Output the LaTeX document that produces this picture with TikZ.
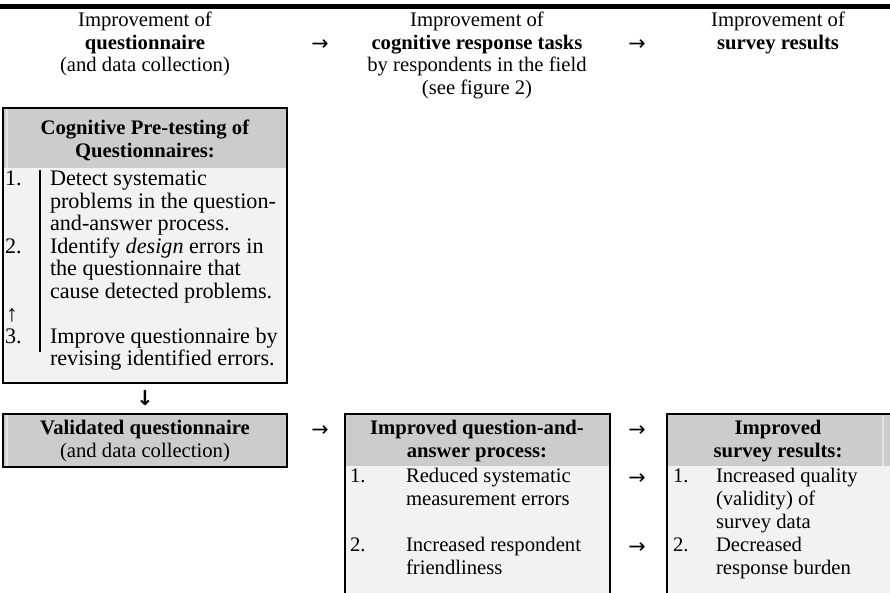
\documentclass[tikz,border=0pt]{standalone}
\usepackage{fontspec}
\setmainfont{Liberation Serif}
\newfontfamily\arrowfont{DejaVu Sans}
\definecolor{hgray}{HTML}{CCCCCC}
\definecolor{bgray}{HTML}{F2F2F2}
\definecolor{faintline}{HTML}{E2E2E2}
\begin{document}
\begin{tikzpicture}[x=0.6pt,y=-0.6pt,
  every node/.style={inner sep=0pt,outer sep=0pt,font=\fontsize{12.4}{13.5}\selectfont},
  t/.style={anchor=mid},
  tl/.style={anchor=mid west},
  big/.style={font=\fontsize{13.3}{14}\selectfont},
  arr/.style={anchor=center,font=\arrowfont\fontsize{12.4}{13}\selectfont},
  frame/.style={line width=1.2pt,draw=black},
  faint/.style={draw=faintline,line width=1pt}]
\useasboundingbox (0,0) rectangle (890,592);
\clip (0,0) rectangle (890,592);
\fill[white] (0,0) rectangle (890,592);
\draw[line width=3pt] (0,6.5) -- (890,6.5);

% top header row
\node[t] (h1a) at (145,23) {Improvement of};
\node[t] (h1b) at (145,45.5) {\textbf{questionnaire}};
\node[t] (h1c) at (145,68) {(and data collection)};
\node[arr] (ta1) at (320,45) {→};
\node[t] (h2a) at (477,23) {Improvement of};
\node[t] (h2b) at (477,45.5) {\textbf{cognitive response tasks}};
\node[t] (h2c) at (477,68) {by respondents in the field};
\node[t] (h2d) at (477,90.5) {(see figure 2)};
\node[arr] (ta2) at (637,45) {→};
\node[t] (h3a) at (778,23) {Improvement of};
\node[t] (h3b) at (778,45.5) {\textbf{survey results}};

% cognitive pre-testing box
\fill[bgray] (3,108) rectangle (287,383);
\fill[hgray] (3,108) rectangle (287,168);
\draw[faint] (7,108) -- (7,168);
\draw[frame] (3,108) rectangle (287,383);
\draw[line width=1.2pt] (40,170) -- (40,352);
\node[t] (c0a) at (145,131) {\textbf{Cognitive Pre-testing of}};
\node[t] (c0b) at (145,153.5) {\textbf{Questionnaires:}};
\node[tl,big] (n1) at (5,182) {1.};
\node[tl,big] (c1a) at (50,182) {Detect systematic};
\node[tl,big] (c1b) at (50,204.5) {problems in the question-};
\node[tl,big] (c1c) at (50,227) {and-answer process.};
\node[tl,big] (n2) at (5,249.5) {2.};
\node[tl,big] (c2a) at (50,249.5) {Identify \textit{design} errors in};
\node[tl,big] (c2b) at (50,272) {the questionnaire that};
\node[tl,big] (c2c) at (50,294.5) {cause detected problems.};
\node[arr,font=\fontsize{14}{14}\selectfont] (up) at (12,315) {↑};
\node[tl,big] (n3) at (5,339.5) {3.};
\node[tl,big] (c3a) at (50,339.5) {Improve questionnaire by};
\node[tl,big] (c3b) at (50,362) {revising identified errors.};
\node[arr,font=\arrowfont\bfseries\fontsize{12.4}{13}\selectfont] (down) at (145,398) {↓};

% validated questionnaire box
\fill[hgray] (3,414) rectangle (287,467);
\draw[faint] (7,414) -- (7,467);
\draw[frame] (3,414) rectangle (287,467);
\node[t] (v1) at (145,431) {\textbf{Validated questionnaire}};
\node[t] (v2) at (145,453.5) {(and data collection)};
\node[arr] (ba1) at (320,431) {→};

% improved question-and-answer process box
\fill[bgray] (345,414) rectangle (610,600);
\fill[hgray] (345,414) rectangle (610,466);
\draw[frame] (345,600) -- (345,414) -- (610,414) -- (610,600);
\node[t] (q1) at (477,431) {\textbf{Improved question-and-}};
\node[t] (q2) at (477,453.5) {\textbf{answer process:}};
\node[tl] (qn1) at (350,479) {1.};
\node[tl] (q1a) at (406,479) {Reduced systematic};
\node[tl] (q1b) at (406,502) {measurement errors};
\node[tl] (qn2) at (350,548) {2.};
\node[tl] (q2a) at (406,548) {Increased respondent};
\node[tl] (q2b) at (406,571) {friendliness};

\node[arr] (ba2) at (637,431) {→};
\node[arr] (ba3) at (637,479) {→};
\node[arr] (ba4) at (637,548) {→};

% improved survey results box
\fill[bgray] (667,414) rectangle (895,600);
\fill[hgray] (667,414) rectangle (895,466);
\draw[faint] (883,414) -- (883,466);
\draw[frame] (667,600) -- (667,414) -- (895,414);
\node[t] (s1) at (778,431) {\textbf{Improved}};
\node[t] (s2) at (778,453.5) {\textbf{survey results:}};
\node[tl] (sn1) at (673,479) {1.};
\node[tl] (s1a) at (716,479) {Increased quality};
\node[tl] (s1b) at (716,502) {(validity) of};
\node[tl] (s1c) at (716,525) {survey data};
\node[tl] (sn2) at (673,548) {2.};
\node[tl] (s2a) at (716,548) {Decreased};
\node[tl] (s2b) at (716,571) {response burden};
\end{tikzpicture}
\end{document}
